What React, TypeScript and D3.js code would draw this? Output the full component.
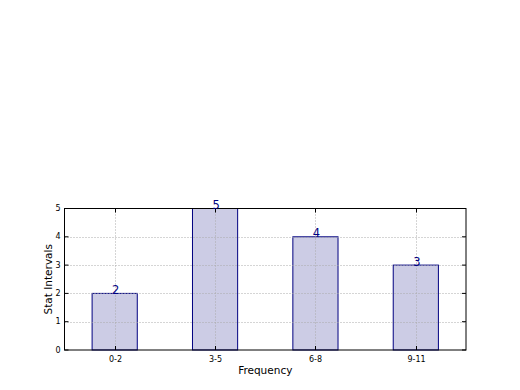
import React from "react";
import { scaleLinear, range } from "d3";

const categories = ["0-2", "3-5", "6-8", "9-11"];
const counts = [2, 5, 4, 3];
const yTicks = [0, 1, 2, 3, 4, 5];

const W = 520;
const H = 390;
const m = { left: 64.5, right: 466, top: 208.5, bottom: 350 };

export default function App() {
    const x = scaleLinear().domain([-0.5, categories.length - 0.5]).range([m.left, m.right]);
    const y = scaleLinear().domain([0, 5]).range([m.bottom, m.top]);
    const bw = x(0.45) - x(0);
    const font = "DejaVu Sans, sans-serif";

    return (
        <svg width={W} height={H} style={{ position: "absolute", left: 0, top: 0 }} fontFamily={font}>
            <rect width={W} height={H} fill="#fff" />

            {/* bars */}
            {counts.map((v, i) => (
                <rect
                    key={i}
                    x={x(i) - bw / 2}
                    y={y(v)}
                    width={bw}
                    height={y(0) - y(v)}
                    fill="#ccccE5"
                    stroke="#000080"
                    strokeWidth={1}
                />
            ))}

            {/* grid */}
            {yTicks.slice(1, -1).map((t) => (
                <line key={"gy" + t} x1={m.left} x2={m.right} y1={Math.round(y(t)) + 0.5} y2={Math.round(y(t)) + 0.5}
                    stroke="#aaa" strokeDasharray="1,2" />
            ))}
            {range(categories.length).map((i) => (
                <line key={"gx" + i} x1={Math.round(x(i)) + 0.5} x2={Math.round(x(i)) + 0.5} y1={m.top} y2={m.bottom}
                    stroke="#aaa" strokeDasharray="1,2" />
            ))}

            {/* frame */}
            <rect x={m.left} y={m.top} width={m.right - m.left} height={m.bottom - m.top} fill="none" stroke="#000" strokeWidth={1} />

            {/* y ticks */}
            {yTicks.map((t) => (
                <g key={"yt" + t} transform={`translate(0,${y(t)})`}>
                    <line x1={m.left} x2={m.left + 4} stroke="#000" />
                    <line x1={m.right - 4} x2={m.right} stroke="#000" />
                    <text x={m.left - 4} dy="0.32em" textAnchor="end" fontSize={8}>{t}</text>
                </g>
            ))}

            {/* x ticks */}
            {categories.map((c, i) => (
                <g key={"xt" + i} transform={`translate(${Math.round(x(i)) + 0.5},0)`}>
                    <line y1={m.bottom} y2={m.bottom - 4} stroke="#000" />
                    <line y1={m.top} y2={m.top + 4} stroke="#000" />
                    <text y={m.bottom + 12} textAnchor="middle" fontSize={8}>{c}</text>
                </g>
            ))}

            {/* value labels */}
            {counts.map((v, i) => (
                <text key={"lbl" + i} x={x(i) + 1} y={y(v) + 0.5} textAnchor="middle" fontSize={11.5} fill="#000080">{v}</text>
            ))}

            <text x={(m.left + m.right) / 2} y={374} textAnchor="middle" fontSize={10.5}>Frequency</text>
            <text transform={`translate(52,${(m.top + m.bottom) / 2}) rotate(-90)`} textAnchor="middle" fontSize={10.5}>Stat Intervals</text>
        </svg>
    );
}
